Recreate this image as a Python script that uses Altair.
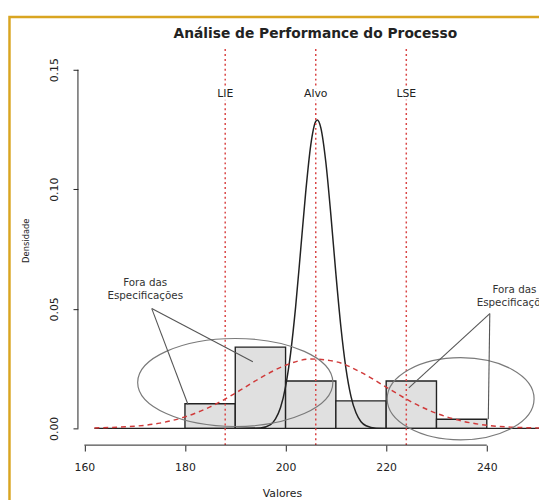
import altair as alt
import pandas as pd

# ---------------- data ----------------
bin_start = [180, 190, 200, 210, 220, 230]
bin_end = [190, 200, 210, 220, 230, 240]
bin_density = [0.0103, 0.0340, 0.0198, 0.0115, 0.0198, 0.0038]

# solid black narrow curve
curve_x = [162, 190, 195, 197, 198, 199, 200, 201, 202, 203, 204, 205, 206, 206.3,
           207, 208, 209, 210, 211, 212, 213, 214, 215, 216, 218, 222, 255]
curve_y = [0.0, 0.0, 0.0002, 0.0016, 0.0040, 0.0087, 0.0175, 0.0314, 0.0508, 0.0746,
           0.0987, 0.1184, 0.1284, 0.1290, 0.1258, 0.1114, 0.0894, 0.0647, 0.0424,
           0.0251, 0.0134, 0.0065, 0.0028, 0.0011, 0.0001, 0.0, 0.0]

# red dashed wide curve
red_x = [162, 170, 175, 180, 185, 190, 195, 200, 205, 210, 215, 220, 225, 230,
         235, 240, 245, 250, 255]
red_y = [0.0002, 0.0009, 0.0022, 0.0048, 0.0090, 0.0147, 0.0211, 0.0264, 0.0290,
         0.0279, 0.0234, 0.0173, 0.0111, 0.0063, 0.0031, 0.0013, 0.0005, 0.0002, 0.0001]

spec_names = ["LIE", "Alvo", "LSE"]
spec_values = [188, 206, 224]
spec_label_y = [0.1397, 0.1397, 0.1397]

note_lines = ["Fora das", "Especificações", "Fora das", "Especificações"]
note_x = [172.1, 172.1, 245.5, 245.5]
note_y = [0.0609, 0.0553, 0.0578, 0.0526]

seg_x = [173.4, 173.4, 240.6, 240.6]
seg_y = [0.0501, 0.0501, 0.0480, 0.0480]
seg_x2 = [180.6, 193.5, 224.5, 240.3]
seg_y2 = [0.0100, 0.0279, 0.0169, 0.0038]

ellipse_cx = [190.0, 234.8]
ellipse_cy = [0.0192, 0.0124]
ellipse_rx = [19.4, 14.6]      # in x units
ellipse_ry = [0.0184, 0.0172]  # in y units

x_ticks = [160, 180, 200, 220, 240]
y_ticks = [0.00, 0.05, 0.10, 0.15]
title_text = "Análise de Performance do Processo"
x_title = "Valores"
y_title = "Densidade"

# ---------------- layout ----------------
W, H = 468, 402
X_DOM = [158.727, 250.38]
Y_DOM = [-0.0070, 0.15863]
PX_X = W / (X_DOM[1] - X_DOM[0])
PX_Y = H / (Y_DOM[1] - Y_DOM[0])
FONT = "DejaVu Sans"
INK = "#222222"

xs = alt.Scale(domain=X_DOM, nice=False, zero=False)
ys = alt.Scale(domain=Y_DOM, nice=False, zero=False)

x_axis = alt.Axis(values=x_ticks, domain=False, grid=False, ticks=True, tickSize=6,
                  tickColor=INK, tickWidth=1, labelFontSize=11, labelColor=INK,
                  labelPadding=11, labelFlush=False, labelOverlap=False, format="d",
                  labelFont=FONT, title=x_title, titleFont=FONT, titleFontSize=11,
                  titleFontWeight="normal", titleColor=INK, titleX=207, titleY=49,
                  titleAlign="center", titleBaseline="middle")
y_axis = alt.Axis(values=y_ticks, domain=False, grid=False, ticks=True, tickSize=5,
                  tickColor=INK, tickWidth=1, labelAngle=270, labelAlign="center",
                  labelBaseline="bottom", labelPadding=14, labelFontSize=11,
                  labelColor=INK, labelFont=FONT, format=".2f", labelOverlap=False,
                  title=y_title, titleFont=FONT, titleFontSize=8.5,
                  titleFontWeight="normal", titleColor=INK, titleX=-53, titleY=194,
                  titleAngle=270, titleAlign="center", titleBaseline="middle")


def X(field):
    return alt.X(field, type="quantitative", scale=xs, axis=x_axis)


def Y(field):
    return alt.Y(field, type="quantitative", scale=ys, axis=y_axis)


hist_df = pd.DataFrame({"start": bin_start, "end": bin_end, "density": bin_density})
curve_df = pd.DataFrame({"x": curve_x, "y": curve_y})
red_df = pd.DataFrame({"x": red_x, "y": red_y})
spec_df = pd.DataFrame({"name": spec_names, "value": spec_values, "ly": spec_label_y})
note_df = pd.DataFrame({"t": note_lines, "x": note_x, "y": note_y})
seg_df = pd.DataFrame({"x": seg_x, "y": seg_y, "x2": seg_x2, "y2": seg_y2})
xline_df = pd.DataFrame({"a": [x_ticks[0]], "b": [x_ticks[-1]]})
yline_df = pd.DataFrame({"a": [y_ticks[0]], "b": [y_ticks[-1]]})

frame = alt.Chart(xline_df).mark_rect(fillOpacity=0, stroke="#D9A521", strokeWidth=2.5).encode(
    x=alt.value(-69.5), x2=alt.value(W + 300), y=alt.value(-32.5), y2=alt.value(H + 300))

bars = alt.Chart(hist_df).transform_calculate(base="0").mark_rect(
    fill="#e0e0e0", stroke=INK, strokeWidth=1.4).encode(
    x=X("start"), x2="end", y=Y("base"), y2="density")

black_curve = alt.Chart(curve_df).mark_line(
    color=INK, strokeWidth=1.5, interpolate="monotone", clip=True).encode(x=X("x"), y=Y("y"))

red_curve = alt.Chart(red_df).mark_line(
    color="#D03A3A", strokeWidth=1.5, strokeDash=[5, 4], interpolate="monotone",
    clip=True).encode(x=X("x"), y=Y("y"))

spec_rules = alt.Chart(spec_df).mark_rule(
    color="#D94545", strokeDash=[2, 3], strokeWidth=1.5).encode(x=X("value"))

spec_halo = alt.Chart(spec_df).mark_text(
    font=FONT, fontSize=11, color="white", stroke="white", strokeWidth=5,
    baseline="middle").encode(x=X("value"), y=Y("ly"), text="name")
spec_text = alt.Chart(spec_df).mark_text(
    font=FONT, fontSize=11, color=INK, baseline="middle").encode(
    x=X("value"), y=Y("ly"), text="name")

ellipses = []
for cx, cy, rx, ry in zip(ellipse_cx, ellipse_cy, ellipse_rx, ellipse_ry):
    rx_px = rx * PX_X
    ratio = (ry * PX_Y) / rx_px
    path = f"M -1 0 A 1 {ratio:.4f} 0 1 1 1 0 A 1 {ratio:.4f} 0 1 1 -1 0 Z"
    edf = pd.DataFrame({"x": [cx], "y": [cy]})
    ellipses.append(alt.Chart(edf).mark_point(
        shape=path, size=(2 * rx_px) ** 2, filled=False, color="#7a7a7a",
        strokeWidth=1.2, opacity=1).encode(x=X("x"), y=Y("y")))

segs = alt.Chart(seg_df).mark_rule(color="#555555", strokeWidth=1.1).encode(
    x=X("x"), y=Y("y"), x2="x2", y2="y2")

notes = alt.Chart(note_df).mark_text(
    font=FONT, fontSize=10.5, color="#333333", baseline="middle").encode(
    x=X("x"), y=Y("y"), text="t")

x_line = alt.Chart(xline_df).mark_rule(color=INK, strokeWidth=1).encode(
    x=X("a"), x2="b", y=alt.value(H))
y_line = alt.Chart(yline_df).mark_rule(color=INK, strokeWidth=1).encode(
    x=alt.value(0), y=Y("a"), y2="b")

title = alt.Chart(pd.DataFrame({"t": [title_text]})).mark_text(
    font=FONT, fontSize=14, fontWeight="bold", color=INK, baseline="middle",
    align="center").encode(x=alt.value(241), y=alt.value(-15), text="t")

chart = alt.layer(
    frame, bars, black_curve, red_curve, spec_rules, spec_halo, spec_text,
    *ellipses, segs, notes, x_line, y_line, title
).properties(
    width=W, height=H,
    autosize=alt.AutoSizeParams(type="none"),
    padding={"left": 71, "top": 38, "right": 0, "bottom": 52},
).configure(font=FONT).configure_view(stroke=None)

chart.save("out.html", embed_options={"renderer": "svg", "actions": False})
